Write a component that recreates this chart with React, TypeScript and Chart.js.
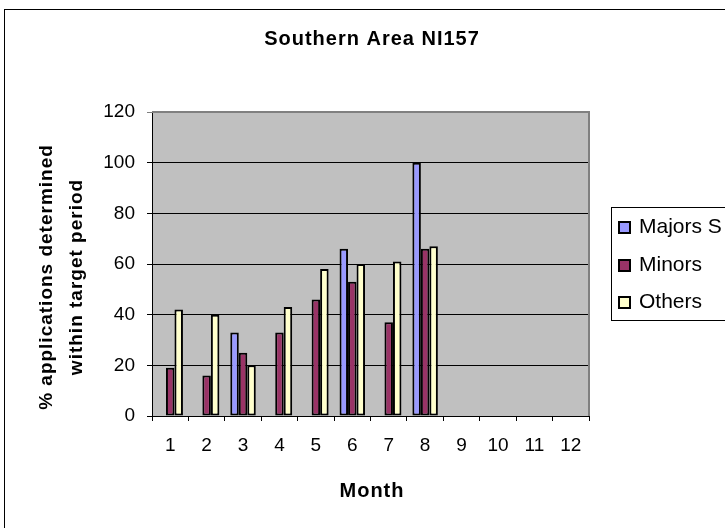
import React, { useEffect, useRef } from "react";
import { Chart, registerables } from "chart.js";

Chart.register(...registerables);

const months = ["1", "2", "3", "4", "5", "6", "7", "8", "9", "10", "11", "12"];
const majors = [null, null, 33, null, null, 66, null, 100, null, null, null, null];
const minors = [19, 16, 25, 33, 46, 53, 37, 66, null, null, null, null];
const others = [42, 40, 20, 43, 58, 60, 61, 67, null, null, null, null];
const seriesNames = ["Majors S", "Minors", "Others"];
const seriesColors = ["#9999FF", "#993366", "#FFFFCC"];
const yTicks = [0, 20, 40, 60, 80, 100, 120];
const chartTitle = "Southern Area NI157";
const xTitle = "Month";
const yTitleLines = ["% applications determined", "within target period"];

const FONT = '"Liberation Sans", Arial, sans-serif';

const decor = {
  id: "decor",
  beforeDraw(chart: any) {
    const { ctx, chartArea } = chart;
    ctx.save();
    ctx.fillStyle = "#ffffff";
    ctx.fillRect(0, 0, chart.width, chart.height);
    ctx.strokeStyle = "#000000";
    ctx.lineWidth = 1;
    ctx.strokeRect(4.5, 9.5, 760, 560);
    ctx.fillStyle = "#C0C0C0";
    ctx.fillRect(chartArea.left, chartArea.top, chartArea.right - chartArea.left, chartArea.bottom - chartArea.top);
    ctx.restore();
  },
  afterDraw(chart: any) {
    const { ctx, chartArea } = chart;
    ctx.save();
    // plot border top/right
    ctx.strokeStyle = "#808080";
    ctx.lineWidth = 2;
    ctx.beginPath();
    ctx.moveTo(chartArea.left, chartArea.top);
    ctx.lineTo(chartArea.right, chartArea.top);
    ctx.lineTo(chartArea.right, chartArea.bottom);
    ctx.stroke();

    // titles
    ctx.fillStyle = "#000000";
    ctx.font = `bold 20px ${FONT}`;
    (ctx as any).letterSpacing = "1px";
    ctx.textAlign = "center";
    ctx.textBaseline = "alphabetic";
    ctx.fillText(chartTitle, 372, 45);
    ctx.font = `bold 20px ${FONT}`;
    ctx.fillText(xTitle, 372, 497);

    ctx.font = `bold 19px ${FONT}`;
    const baselines = [52, 82];
    yTitleLines.forEach((line, i) => {
      ctx.save();
      ctx.translate(baselines[i], 277);
      ctx.rotate(-Math.PI / 2);
      ctx.fillText(line, 0, 0);
      ctx.restore();
    });
    (ctx as any).letterSpacing = "0px";

    // legend
    ctx.strokeStyle = "#000000";
    ctx.lineWidth = 1;
    ctx.fillStyle = "#ffffff";
    ctx.fillRect(611.5, 207.5, 200, 113);
    ctx.strokeRect(611.5, 207.5, 200, 113);
    ctx.font = `21px ${FONT}`;
    ctx.textAlign = "left";
    const rows = [233, 271, 308];
    seriesNames.forEach((name, i) => {
      ctx.fillStyle = seriesColors[i];
      ctx.fillRect(619, rows[i] - 11, 11, 11);
      ctx.strokeStyle = "#000000";
      ctx.lineWidth = 2;
      ctx.strokeRect(619, rows[i] - 11, 11, 11);
      ctx.fillStyle = "#000000";
      ctx.fillText(name, 639, rows[i]);
    });
    ctx.restore();
  },
};

export default function App() {
  const ref = useRef<HTMLCanvasElement | null>(null);
  useEffect(() => {
    if (!ref.current) return;
    const data = [majors, minors, others];
    const chart = new Chart(ref.current, {
      type: "bar",
      data: {
        labels: months,
        datasets: seriesNames.map((name, i) => ({
          label: name,
          data: data[i] as any,
          backgroundColor: seriesColors[i],
          borderColor: "#000000",
          borderWidth: 2,
          borderSkipped: false,
          categoryPercentage: 0.7,
          barPercentage: 1,
        })),
      },
      options: {
        responsive: false,
        animation: false,
        devicePixelRatio: 1,
        layout: { padding: { left: 0, top: 112, right: 136, bottom: 0 } },
        plugins: {
          legend: { display: false },
          title: { display: false },
          tooltip: { enabled: false },
        },
        scales: {
          x: {
            grid: {
              drawOnChartArea: false,
              drawTicks: true,
              tickLength: 5,
              color: "#000000",
              offset: true,
            },
            border: { display: true, color: "#000000", width: 1 },
            ticks: {
              color: "#000000",
              font: { family: FONT, size: 19 },
              padding: 13,
              maxRotation: 0,
            },
            afterFit(scale: any) {
              scale.height = 112;
            },
          },
          y: {
            min: 0,
            max: 120,
            afterBuildTicks(scale: any) {
              scale.ticks = yTicks.map((v) => ({ value: v }));
            },
            grid: {
              color: (c: any) => (c.tick && c.tick.value === 120 ? "#808080" : "#000000"),
              tickLength: 5,
              drawTicks: true,
            },
            border: { display: true, color: "#000000", width: 1 },
            ticks: {
              color: "#000000",
              font: { family: FONT, size: 19 },
              padding: 12,
            },
            afterFit(scale: any) {
              scale.width = 152;
            },
          },
        },
      },
      plugins: [decor],
    });
    return () => chart.destroy();
  }, []);
  return (
    <div style={{ position: "absolute", left: 0, top: 0, width: 725, height: 528 }}>
      <canvas ref={ref} width={725} height={528} style={{ width: 725, height: 528 }} />
    </div>
  );
}
